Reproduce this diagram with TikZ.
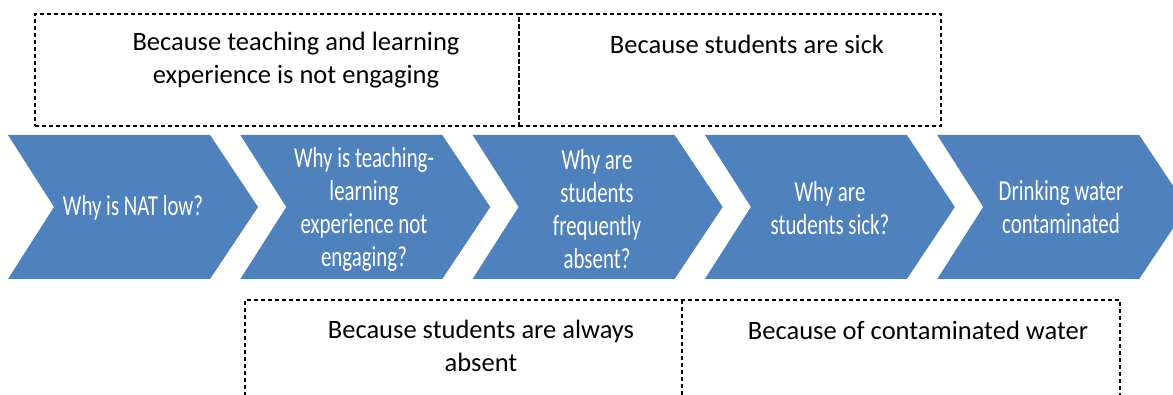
\documentclass[tikz,border=0pt]{standalone}
\usepackage{fontspec}
\setmainfont{Carlito}
\newfontfamily\chevfont{Carlito}[FakeStretch=0.72]
\definecolor{chevblue}{HTML}{4F81BD}
\begin{document}
\begin{tikzpicture}[x=1pt,y=-1pt,
  chevron/.style={fill=chevblue},
  chevtext/.style={text=white,font=\chevfont\fontsize{29}{33}\selectfont,align=center,inner sep=0pt},
  reasonbox/.style={draw=black,line width=1.1pt,dash pattern=on 4pt off 3pt},
  reason/.style={font=\fontsize{26.5}{33}\selectfont,align=center,inner sep=0pt}]
\useasboundingbox (0,0) rectangle (1173,395);

% chevron row
\foreach \i in {0,...,4}{
  \pgfmathsetmacro\xo{8+232.3*\i}
  \fill[chevron] (\xo,135) -- ++(202,0) -- ++(48,72) -- ++(-48,72)
                 -- ++(-202,0) -- ++(46,-72) -- cycle;
}
\node[chevtext] (q1) at (133,208) {Why is NAT low?};
\node[chevtext] (q2) at (364,209) {Why is teaching-\\learning\\experience not\\engaging?};
\node[chevtext] (q3) at (597,209) {Why are\\students\\frequently\\absent?};
\node[chevtext] (q4) at (830,208) {Why are\\students sick?};
\node[chevtext] (q5) at (1061,207) {Drinking water\\contaminated};

% upper answer boxes
\node[reasonbox,minimum width=484pt,minimum height=112pt,inner sep=0pt] (b1) at (277,70) {};
\node[reasonbox,minimum width=422pt,minimum height=112pt,inner sep=0pt] (b2) at (730,70) {};
\node[reason] (a1) at (296,60) {Because teaching and learning\\experience is not engaging};
\node[reason] (a2) at (747,44) {Because students are sick};

% lower answer boxes (open at the bottom edge)
\coordinate (l1) at (245,396);
\coordinate (l2) at (682,396);
\coordinate (l3) at (1120,396);
\draw[reasonbox] (l1) -- (245,300) -- (1120,300) -- (l3);
\draw[reasonbox] (682,300) -- (l2);
\node[reason] (a3) at (481,346) {Because students are always\\absent};
\node[reason] (a4) at (918,330) {Because of contaminated water};
\end{tikzpicture}
\end{document}
